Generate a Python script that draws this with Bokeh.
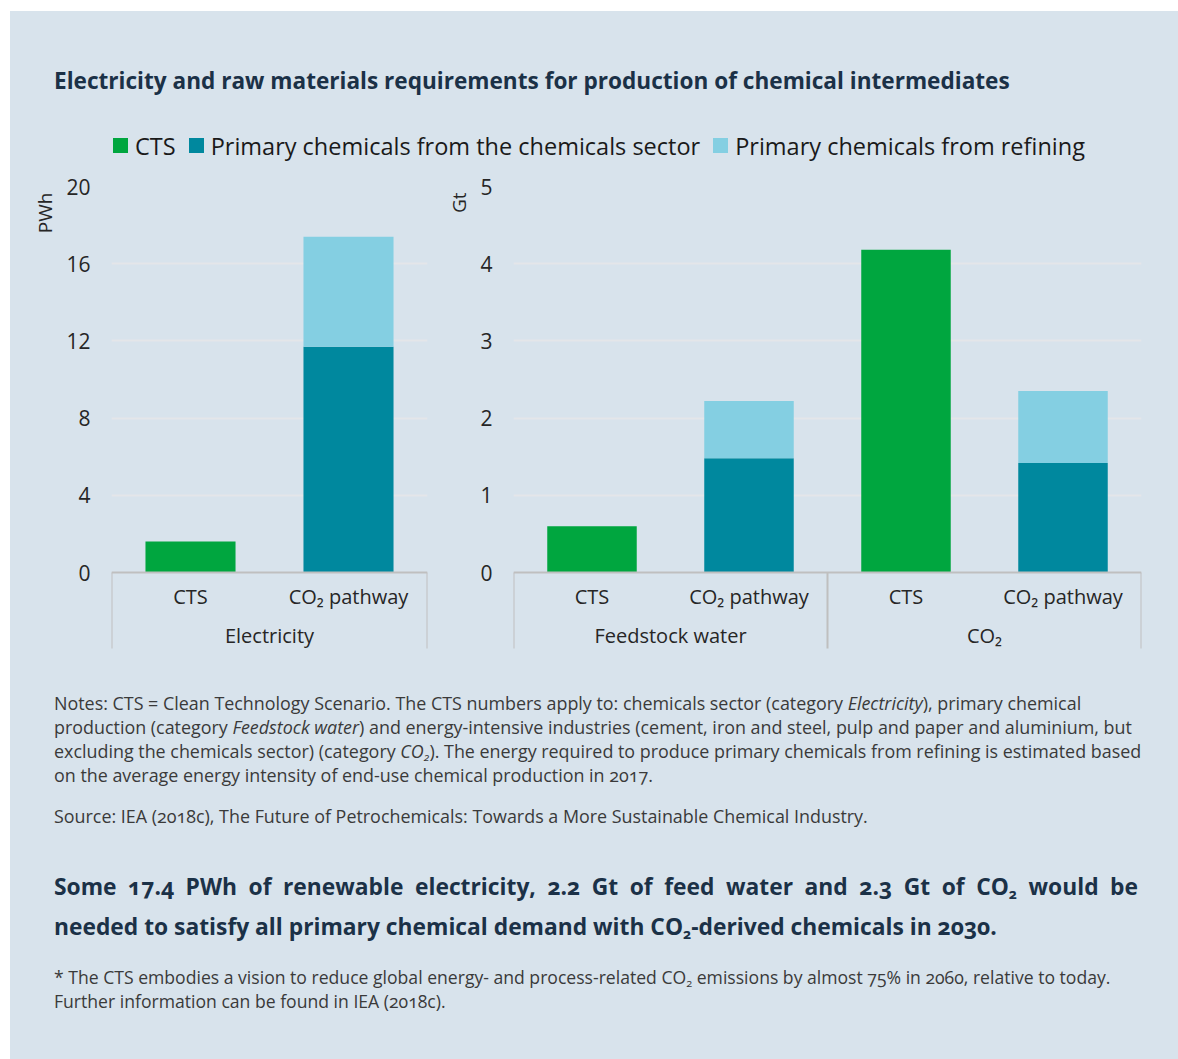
from bokeh.plotting import figure
from bokeh.models import (FactorRange, Range1d, FixedTicker, Title, Div,
                          CategoricalAxis, ColumnDataSource)
from bokeh.layouts import column, row
from bokeh.embed import file_html
from bokeh.resources import INLINE

# ---------------- data ----------------
series_names = ["CTS", "Primary chemicals from the chemicals sector",
                "Primary chemicals from refining"]
scenarios = ["CTS", "CO₂ pathway"]
left_groups = ["Electricity"]
right_groups = ["Feedstock water", "CO₂"]
left_unit = "PWh"
right_unit = "Gt"
left_ticks = [0, 4, 8, 12, 16, 20]
right_ticks = [0, 1, 2, 3, 4, 5]

elec_cts = [1.6, 0.0]
elec_chem = [0.0, 11.7]
elec_ref = [0.0, 5.7]

gt_cts = [0.6, 0.0, 4.18, 0.0]
gt_chem = [0.0, 1.48, 0.0, 1.42]
gt_ref = [0.0, 0.74, 0.0, 0.93]

# ---------------- style ----------------
BG = "#d8e3ec"
GRID = "#e4e6e9"
AXIS = "#bfbfbf"
NAVY = "#1b3147"
TXT = "#262626"
COLORS = ["#00a63f", "#00889e", "#84cfe2"]
FONT = "Open Sans"
CSSFONT = "'Open Sans', sans-serif"

ROOT_W = 1168
FRAME_TOP = 16
PLOT_H = 386   # zero line to top tick (px)
AXIS_H = 76    # depth of the category box below zero (px)
EXTRA_H = 16   # room under the box for the group labels
FIG_H = FRAME_TOP + PLOT_H + AXIS_H + EXTRA_H


def make_chart(groups, cts, chem, ref, ticks, unit, width, bl, br, unit_standoff):
    top = ticks[-1]
    bottom = -top * (AXIS_H + EXTRA_H) / PLOT_H
    box_bottom = -top * AXIS_H / PLOT_H
    factors = [(g, s) for g in groups for s in scenarios]
    x_range = FactorRange(*factors, group_padding=0, factor_padding=0,
                          subgroup_padding=0, range_padding=0)
    p = figure(x_range=x_range, y_range=Range1d(bottom, top),
               width=width, height=FIG_H, output_backend="svg",
               toolbar_location=None, x_axis_location=None,
               min_border_left=bl, min_border_right=br,
               min_border_top=FRAME_TOP, min_border_bottom=0,
               background_fill_color=BG, border_fill_color=BG,
               outline_line_color=None)
    p.extra_x_ranges = {"groups": FactorRange(*groups, range_padding=0,
                                              factor_padding=0)}

    src = ColumnDataSource(dict(x=factors, cts=cts, chem=chem, ref=ref))
    p.vbar_stack(["cts", "chem", "ref"], x="x", width=0.57, source=src,
                 fill_color=COLORS, line_color=None)

    # y axis
    ya = p.yaxis[0]
    ya.ticker = FixedTicker(ticks=ticks)
    ya.axis_line_color = None
    ya.major_tick_line_color = None
    ya.minor_tick_line_color = None
    ya.major_tick_out = 0
    ya.major_label_standoff = 21
    ya.major_label_text_font = FONT
    ya.major_label_text_font_size = "21px"
    ya.major_label_text_color = TXT
    p.ygrid.ticker = FixedTicker(ticks=ticks[1:])
    p.ygrid.grid_line_color = GRID
    p.ygrid.grid_line_width = 2
    p.xgrid.grid_line_color = None

    # category axis (scenario level) at y = 0
    ax = CategoricalAxis(fixed_location=0, axis_line_color=AXIS,
                         axis_line_width=2, major_tick_line_color=None,
                         minor_tick_line_color=None, major_tick_out=0,
                         major_label_standoff=10,
                         major_label_text_font=FONT,
                         major_label_text_font_size="20px",
                         major_label_text_color=TXT,
                         group_text_color=None, separator_line_color=None)
    p.add_layout(ax, "below")
    # group level axis
    gx = CategoricalAxis(x_range_name="groups", fixed_location=0,
                         axis_line_color=None, major_tick_line_color=None,
                         minor_tick_line_color=None, major_tick_out=0,
                         major_label_standoff=49,
                         major_label_text_font=FONT,
                         major_label_text_font_size="20px",
                         major_label_text_color=TXT)
    p.add_layout(gx, "below")

    # box separators of the category axis
    edges = [(g, -0.5) for g in groups] + [(groups[-1], 0.5)]
    p.segment(x0=edges, y0=[0] * len(edges), x1=edges,
              y1=[box_bottom] * len(edges), x_range_name="groups",
              line_color=AXIS, line_width=2)

    # unit label at the top of the value axis
    p.add_layout(Title(text=unit, align="right", offset=6,
                       standoff=unit_standoff, text_font=FONT,
                       text_font_size="19px", text_font_style="normal",
                       text_color=TXT), "left")
    return p


p1 = make_chart(left_groups, elec_cts, elec_chem, elec_ref, left_ticks,
                left_unit, 427, 101, 10, 12)
p2 = make_chart(right_groups, gt_cts, gt_chem, gt_ref, right_ticks,
                right_unit, 741, 74, 37, 12)

title_text = "Electricity and raw materials requirements for production of chemical intermediates"
title = Div(text=(f'<div style="padding:56px 0 0 44px;font-family:{CSSFONT};'
                  f'font-weight:700;font-size:22.6px;line-height:28px;color:{NAVY};'
                  f'white-space:nowrap">{title_text}</div>'),
            width=ROOT_W, height=100, margin=0, styles={"background-color": BG})

items = "".join(
    f'<span style="display:inline-flex;align-items:center;margin-right:13px">'
    f'<span style="display:inline-block;width:15px;height:15px;background:{c};'
    f'margin-right:7px"></span>{n}</span>'
    for n, c in zip(series_names, COLORS))
legend = Div(text=(f'<div style="box-sizing:border-box;padding:19px 0 0 103px;height:50px;'
                   f'display:flex;align-items:center;font-family:{CSSFONT};font-size:23.5px;'
                   f'line-height:30px;color:#1a1a1a;white-space:nowrap">{items}</div>'),
             width=ROOT_W, height=59, margin=0, styles={"background-color": BG})

SUB = '<sub style="font-size:0.62em;line-height:0;vertical-align:-0.25em">2</sub>'
notes_lines = [
    "Notes: CTS = Clean Technology Scenario. The CTS numbers apply to: chemicals sector (category <i>Electricity</i>), primary chemical",
    "production (category <i>Feedstock water</i>) and energy-intensive industries (cement, iron and steel, pulp and paper and aluminium, but",
    f"excluding the chemicals sector) (category <i>CO{SUB}</i>). The energy required to produce primary chemicals from refining is estimated based",
    "on the average energy intensity of end-use chemical production in 2017.",
]
source_text = "Source: IEA (2018c), The Future of Petrochemicals: Towards a More Sustainable Chemical Industry."
bold_1 = f"Some 17.4 PWh of renewable electricity, 2.2 Gt of feed water and 2.3 Gt of CO{SUB} would be"
bold_2 = f"needed to satisfy all primary chemical demand with CO{SUB}-derived chemicals in 2030."
foot_lines = [
    f"* The CTS embodies a vision to reduce global energy- and process-related CO{SUB} emissions by almost 75% in 2060, relative to today.",
    "Further information can be found in IEA (2018c).",
]

bottom_html = (
    f'<div style="padding:27px 0 0 44px;font-family:{CSSFONT};color:#3a3a3a;'
    f'font-variant-numeric:oldstyle-nums">'
    f'<div style="font-size:17.9px;line-height:24px;white-space:nowrap">{"<br>".join(notes_lines)}</div>'
    f'<div style="margin-top:17px;font-size:17.9px;line-height:24px;white-space:nowrap">{source_text}</div>'
    f'<div style="margin-top:39px;width:1084px;font-size:22.8px;font-weight:700;'
    f'line-height:40px;color:{NAVY}">'
    f'<div style="text-align:justify;text-align-last:justify;white-space:nowrap">{bold_1}</div>'
    f'<div style="white-space:nowrap">{bold_2}</div></div>'
    f'<div style="margin-top:18px;font-size:17.6px;line-height:24px;white-space:nowrap">{"<br>".join(foot_lines)}</div>'
    f'</div>')
bottom = Div(text=bottom_html, width=ROOT_W, height=1048 - 100 - 59 - FIG_H, margin=0,
             styles={"background-color": BG})

charts = row(p1, p2, styles={"background-color": BG})
root = column(title, legend, charts, bottom, margin=(11, 0, 0, 10),
              styles={"background-color": BG})

open("out.html", "w").write(file_html(root, INLINE, title="chart"))
